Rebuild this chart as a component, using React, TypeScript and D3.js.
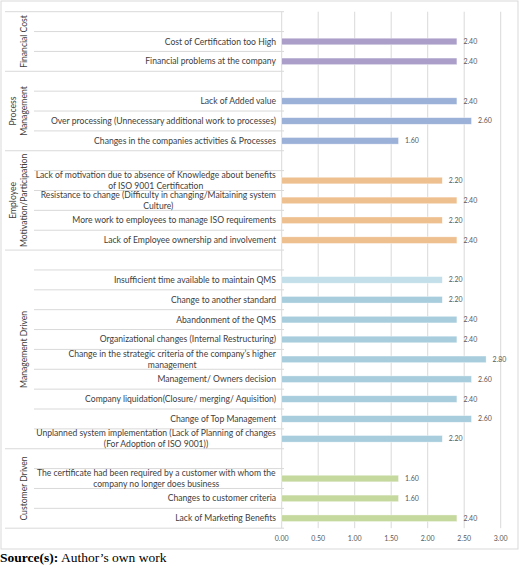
import React from "react";
import * as d3 from "d3";

const groupNames: string[][] = [
  ["Financial Cost"],
  ["Process", "Management"],
  ["Employee", "Motivation/Participation"],
  ["Management Driven"],
  ["Customer Driven"],
];
const groupColors = ["#ab9fc9", "#9cb1d8", "#eebf8f", "#a8cddd", "#c5d89e"];

const categoryGroup = [0, 0, 1, 1, 1, 2, 2, 2, 2, 3, 3, 3, 3, 3, 3, 3, 3, 3, 4, 4, 4];
const categoryLabels: string[][] = [
  ["Cost of Certification too High"],
  ["Financial problems at the company"],
  ["Lack of Added value"],
  ["Over processing (Unnecessary additional work to processes)"],
  ["Changes in the companies activities & Processes"],
  ["Lack of motivation due to absence of Knowledge about benefits", "of ISO 9001 Certification"],
  ["Resistance to change (Difficulty in changing/Maitaining system", "Culture)"],
  ["More work to employees to manage ISO requirements"],
  ["Lack of Employee ownership and involvement"],
  ["Insufficient time available to maintain QMS"],
  ["Change to another standard"],
  ["Abandonment of the QMS"],
  ["Organizational changes (Internal Restructuring)"],
  ["Change in the strategic criteria of the company\u2019s higher", "management"],
  ["Management/ Owners decision"],
  ["Company liquidation(Closure/ merging/ Aquisition)"],
  ["Change of Top Management"],
  ["Unplanned system implementation (Lack of Planning of changes", "(For Adoption of ISO 9001))"],
  ["The certificate had been required by a customer with whom the", "company no longer does business"],
  ["Changes to customer criteria"],
  ["Lack of Marketing Benefits"],
];
const values = [2.4, 2.4, 2.4, 2.6, 1.6, 2.2, 2.4, 2.2, 2.4, 2.2, 2.2, 2.4, 2.4, 2.8, 2.6, 2.4, 2.6, 2.2, 1.6, 1.6, 2.4];
const specialColor: Record<number, string> = { 9: "#c3dfe9" };
const xTicks = [0, 0.5, 1, 1.5, 2, 2.5, 3];

const FONT = "Lato, 'Open Sans', sans-serif";
const LABEL_SIZE = 8.6;

let measureCtx: CanvasRenderingContext2D | null = null;
function measure(text: string, size: number): number {
  if (typeof document === "undefined") return text.length * size * 0.48;
  if (!measureCtx) measureCtx = document.createElement("canvas").getContext("2d");
  if (!measureCtx) return text.length * size * 0.48;
  measureCtx.font = `${size}px Lato`;
  return measureCtx.measureText(text).width;
}

type Row = { key: string; group: number; cat: number | null };

export default function App() {
  const rows: Row[] = [];
  groupNames.forEach((_, g) => {
    rows.push({ key: `spacer-${g}`, group: g, cat: null });
    categoryGroup.forEach((cg, i) => {
      if (cg === g) rows.push({ key: `cat-${i}`, group: g, cat: i });
    });
  });

  const y = d3.scaleBand<string>().domain(rows.map((r) => r.key)).range([11.7, 528.2]).padding(0);
  const x = d3.scaleLinear().domain([0, 3]).range([281.7, 500.7]);
  const bw = y.bandwidth();
  const barH = 6.6;
  const labelRight = 276;

  const groupExtents = groupNames.map((_, g) => {
    const rs = rows.filter((r) => r.group === g);
    const top = y(rs[0].key)!;
    const bottom = y(rs[rs.length - 1].key)! + bw;
    return { top, bottom };
  });

  const grid = "#d9d9d9";

  return (
    <svg width={520} height={572} style={{ position: "absolute", left: 0, top: 0, background: "#fff" }}>
      <rect x={1} y={1} width={517} height={548} fill="#fff" stroke={grid} strokeWidth={1} />
      {xTicks.map((t) => (
        <line key={`g${t}`} x1={x(t)} x2={x(t)} y1={11.7} y2={528.2} stroke={grid} strokeWidth={1} />
      ))}
      {rows.map((r, i) => {
        const yy = y(r.key)!;
        const isGroupTop = r.cat === null;
        return (
          <line key={`sep${i}`} x1={isGroupTop ? 5 : 34} x2={284} y1={yy} y2={yy} stroke={grid} strokeWidth={1} />
        );
      })}
      <line x1={5} x2={284} y1={528.2} y2={528.2} stroke={grid} strokeWidth={1} />
      {values.map((v, i) => {
        const yc = y(`cat-${i}`)! + bw / 2;
        const color = specialColor[i] ?? groupColors[categoryGroup[i]];
        return (
          <g key={`b${i}`}>
            <rect
              x={x(0)}
              y={yc - barH / 2}
              width={x(v) - x(0)}
              height={barH}
              fill={color}
              stroke="#ffffff"
              strokeOpacity={0.6}
              strokeWidth={0.6}
            />
            <text x={x(v) + 6.5} y={yc} dy="0.35em" fontSize={7} fill="#595959" fontFamily={FONT}>
              {d3.format(".2f")(v)}
            </text>
          </g>
        );
      })}
      {categoryLabels.map((lines, i) => {
        const yc = y(`cat-${i}`)! + bw / 2;
        const lh = 10.7;
        const start = yc - ((lines.length - 1) * lh) / 2;
        if (lines.length === 1) {
          return (
            <text key={`l${i}`} x={labelRight} y={yc} dy="0.35em" textAnchor="end" fontSize={LABEL_SIZE} fill="#404040" fontFamily={FONT}>
              {lines[0]}
            </text>
          );
        }
        const w = measure(lines[0], LABEL_SIZE);
        const cx = labelRight - w / 2;
        return (
          <text key={`l${i}`} textAnchor="middle" fontSize={LABEL_SIZE} fill="#404040" fontFamily={FONT}>
            {lines.map((ln, j) => (
              <tspan key={j} x={cx} y={start + j * lh} dy="0.35em">
                {ln}
              </tspan>
            ))}
          </text>
        );
      })}
      {groupNames.map((lines, g) => {
        const { top, bottom } = groupExtents[g];
        const cy = (top + bottom) / 2;
        const bases = lines.length === 1 ? [26.5] : [16, 26.5];
        return (
          <g key={`gl${g}`}>
            {lines.map((ln, j) => (
              <text
                key={j}
                transform={`translate(${bases[j]},${cy}) rotate(-90)`}
                textAnchor="middle"
                fontSize={LABEL_SIZE}
                fill="#404040"
                fontFamily={FONT}
              >
                {ln}
              </text>
            ))}
          </g>
        );
      })}
      {xTicks.map((t) => (
        <text key={`t${t}`} x={x(t)} y={538.5} dy="0.35em" textAnchor="middle" fontSize={7} fill="#595959" fontFamily={FONT}>
          {d3.format(".2f")(t)}
        </text>
      ))}
      <text x={0} y={562} fontFamily="'Liberation Serif', 'Times New Roman', serif" fontSize={13.5} fill="#000">
        <tspan fontWeight="bold">Source(s):</tspan>
        <tspan> Author{"\u2019"}s own work</tspan>
      </text>
    </svg>
  );
}
